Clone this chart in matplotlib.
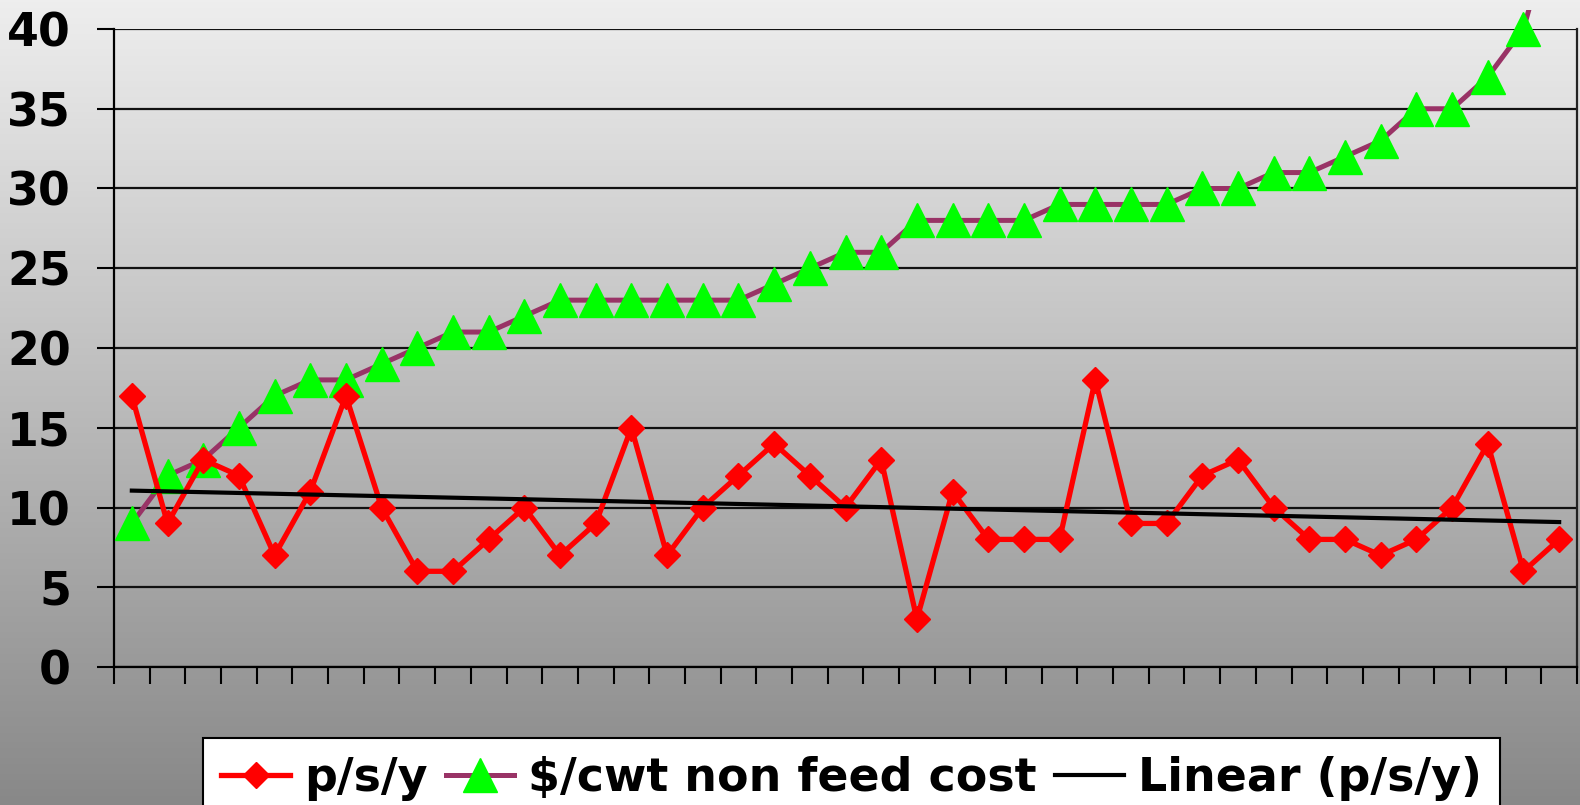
import numpy as np
import matplotlib
matplotlib.use("Agg")
import matplotlib.pyplot as plt
from matplotlib.patches import Rectangle

# data
psy = [17, 9, 13, 12, 7, 11, 17, 10, 6, 6, 8, 10, 7, 9, 15, 7, 10, 12, 14, 12, 10,
       13, 3, 11, 8, 8, 8, 18, 9, 9, 12, 13, 10, 8, 8, 7, 8, 10, 14, 6, 8]
cwt_cost = [9, 12, 13, 15, 17, 18, 18, 19, 20, 21, 21, 22, 23, 23, 23, 23, 23, 23, 24, 25, 26,
            26, 28, 28, 28, 28, 29, 29, 29, 29, 30, 30, 31, 31, 32, 33, 35, 35, 37, 40, 48]
y_ticks = [0, 5, 10, 15, 20, 25, 30, 35, 40]

plt.rcParams['font.family'] = 'DejaVu Sans'
plt.rcParams['font.weight'] = 'bold'

W, H = 1580, 805
fig = plt.figure(figsize=(W / 100, H / 100), dpi=100)

# gray gradient background over the whole figure
bg = fig.add_axes([0, 0, 1, 1], zorder=-10)
grad = np.linspace(238, 136, 256).reshape(-1, 1) / 255.0
bg.imshow(np.dstack([grad, grad, grad]), aspect='auto', extent=[0, 1, 0, 1])
bg.axis('off')

ax = fig.add_axes([114 / W, 1 - 667 / H, 1463 / W, 638 / H])
ax.set_facecolor('none')

x = np.arange(len(psy))
fit = np.polyfit(x, psy, 1)
trend = np.polyval(fit, x)

ax.plot(x, psy, color='#ff0000', lw=3.8, marker='D', ms=13,
        mfc='#ff0000', mec='#ff0000', label='p/s/y', zorder=4)
l2, = ax.plot(x, cwt_cost, color='#993366', lw=3.6, marker='^', ms=24,
              mfc='#00ff00', mec='#00ff00', label='$/cwt non feed cost', zorder=3)
# series runs past the top of the plot, cut at the chart area edge
l2.set_clip_box(fig.bbox)
l2.set_clip_path(Rectangle((0, 0), 1, 1 - 10 / H, transform=fig.transFigure))
ax.plot(x, trend, color='black', lw=3, label='Linear (p/s/y)', zorder=5)

ax.set_xlim(-0.5, len(psy) - 0.5)
ax.set_ylim(0, 40)
ax.set_yticks(y_ticks)
ax.set_xticks(np.arange(-0.5, len(psy), 1))
ax.set_xticklabels([])
ax.yaxis.grid(True, color='#111111', lw=1.6)
ax.set_axisbelow(True)
ax.tick_params(axis='y', length=12, width=1.5, pad=19, labelsize=33, direction='out')
ax.tick_params(axis='x', length=12, width=1.5, direction='out')
for s in ['left', 'bottom', 'right']:
    ax.spines[s].set_linewidth(1.6)
    ax.spines[s].set_color('black')
ax.spines['top'].set_visible(False)
ax.spines['right'].set_color('#222222')

leg = fig.legend(loc='upper left', bbox_to_anchor=(203 / W, 1 - 738 / H), ncol=3,
                 fontsize=33, frameon=True, fancybox=False, edgecolor='black',
                 framealpha=1, handlelength=1.5, handletextpad=0.3,
                 columnspacing=0.4, borderpad=0.4, borderaxespad=0)
leg.get_frame().set_linewidth(1.5)

fig.savefig('out.png', dpi=100)
